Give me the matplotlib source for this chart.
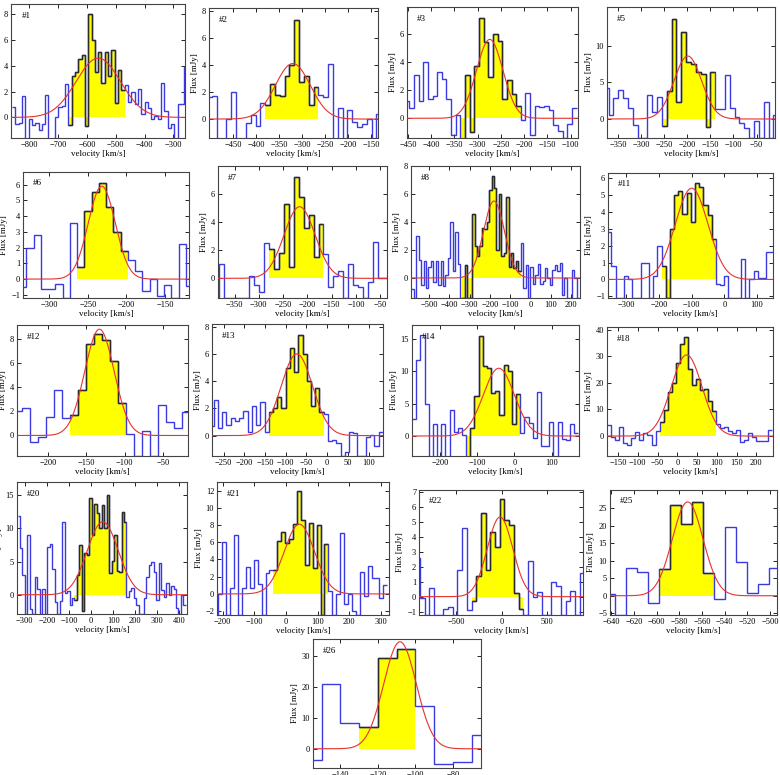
import numpy as np
import matplotlib
matplotlib.use("Agg")
import matplotlib.pyplot as plt

plt.rcParams['font.family'] = ['Liberation Serif', 'DejaVu Serif']
plt.rcParams['font.size'] = 6.5
plt.rcParams['axes.linewidth'] = 0.8

# ---------------- data (velocity channels in km/s, flux in mJy) ----------------
names = ['#1', '#2', '#3', '#5', '#6', '#7', '#8', '#11', '#12', '#13',
         '#14', '#18', '#20', '#21', '#22', '#25', '#26']

# first channel edge and channel width per source
v_start = [-860.5, -506, -457, -381, -339.2, -391.2, -588, -358.4, -245.5,
           -283.8, -275.6, -177.6, -332.6, -226, -957, -645.85, -160]
v_width = [11.5, 10.5, 10, 10.5, 9.4, 10.2, 12, 12.8, 10.5,
           10.2, 11.2, 10.2, 11.2, 12.4, 52, 9.65, 10]

# line window: (first channel, number of channels)
line_win = [(17, 17), (12, 11), (12, 13), (12, 11), (8, 7), (11, 11), (21, 24),
            (13, 13), (7, 7), (14, 13), (13, 13), (13, 14), (23, 21), (15, 14),
            (12, 11), (5, 5), (3, 3)]

# gaussian fits: amplitude, centre, sigma
fit_amp = [4.6, 4.1, 5.6, 8.6, 5.9, 5.1, 5.5, 5.4, 8.8, 6.0, 10.5, 30.5, 11.0, 8.1, 5.3, 26.8, 34.5]
fit_mu = [-561, -320, -274, -199, -232, -216, -180, -100, -133, -73, -42, 23.5, 53, 42, -18, -572.6, -108.2]
fit_sig = [77, 38, 28.5, 30, 17.4, 32, 52, 50, 19.2, 38, 42, 39, 70, 48, 141, 13.5, 8.7]

flux_1 = [0.8, -0.5, -0.4, 1.65, -1.8, -0.1, -0.6, -0.4, -1.0, -0.5, 1.7, -1.8, -1.8, 0.0, 0.8, 0.9, 2.6,
          -0.6, 3.2, 3.5, 4.5, 4.85, -0.7, 8.0, 6.0, 3.5, 5.1, 2.7, 5.1, 3.2, 5.25, 1.1, 3.7, 2.1,
          2.5, 1.2, 2.0, 1.0, 2.2, 0.3, 1.2, 0.7, -0.1, 0.1, -0.1, 2.7, 0.5, -0.8, -0.5, -1.8, 1.0, 1.0, 3.9]
flux_2 = [1.6, 1.7, -1.6, -1.6, 0.0, 2.0, -1.6, -1.6, -0.3, 0.3, -0.5, 1.2,
          1.0, 2.6, 1.8, 1.7, 3.2, 4.0, 7.3, 2.7, 3.2, 1.0, 2.4,
          1.8, 1.6, 4.1, -1.6, 0.8, -1.6, 0.7, -0.2, -0.6, -0.4, 0.0, -1.6, 0.4]
flux_3 = [1.2, 0.7, 3.1, 1.2, 4.0, 1.4, 1.6, 3.3, 2.8, 1.4, -1.2, 0.2,
          -1.5, 3.1, -1.0, 3.7, 7.1, 5.4, 2.9, 6.0, 5.5, 1.4, 2.7, 1.7, 0.9,
          -0.1, 1.8, -1.2, 0.9, 0.8, 0.85, 0.6, -0.5, -0.9, -1.4, -0.4, 0.7]
flux_5 = [4.2, 0.5, 2.8, 4.0, 2.8, 1.5, -0.8, -2.6, -2.6, 3.3, 0.9, 3.0,
          -0.9, 3.8, 13.7, 2.3, 11.9, 7.8, 7.5, 6.4, 6.2, -1.1, 6.4,
          1.3, 1.3, 6.0, 1.5, 0.3, -0.5, -1.3, -2.6, -0.3, -2.6, 2.3, -2.6, 0.5]
flux_6 = [-0.5, 2.0, 2.8, -0.65, -0.65, -0.3, -1.2, 3.55,
          0.8, 4.35, 5.55, 6.1, 4.6, 3.0, 1.8,
          1.2, 0.5, -0.75, 0.0, -1.05, -0.4, -1.2, 2.2, -0.45]
flux_7 = [-1.4, 1.0, -1.4, -1.4, -1.4, -1.4, -1.4, 0.2, -0.5, -1.0, 2.5,
          2.1, 0.7, 1.8, 5.3, 0.8, 7.2, 5.8, 3.6, 4.5, 1.5, 3.9,
          1.7, -0.6, 0.2, 0.55, -1.4, 1.0, -0.5, -0.6, -1.4, -0.25, 2.6, 0.0, 0.0, 0.95]
flux_8 = [-0.8, -1.4, 3.0, 1.3, -0.5, 1.2, -0.7, 0.8, 1.2, -0.3, 1.2, -0.5, 1.2, -0.6, 0.2, 1.4, 4.0, 0.5, 3.3, 1.0, -1.4,
          -1.4, 0.9, -1.4, -1.4, 4.6, 2.3, 1.6, 2.3, 3.6, 3.5, 4.0, 6.3, 7.3, 6.4, 2.0, 6.0, 1.6, 1.8, 5.8, 0.8, 1.8, 0.7, 1.2, 0.5,
          2.5, -0.7, 0.9, -1.4, 0.8, -0.4, 0.2, 1.0, -0.4, -0.2, 0.7, 0.0, -0.5, 0.6, 0.9, 0.5, 1.1, -1.2, 0.0, -1.4, -1.4, 0.6, 0.0, -1.4]
flux_11 = [2.8, 0.8, -1.1, -1.1, 0.2, 0.0, -1.1, -1.1, 1.0, 0.95, -1.1, 0.2, 1.95,
           0.8, -1.1, 3.0, 5.0, 5.25, 3.9, 5.1, 3.4, 5.7, 5.5, 4.4, 3.8, 2.4,
           -0.3, -0.35, 0.2, -1.1, -1.1, -1.1, 1.2, -1.1, 0.0, 0.5, 0.1, 0.1, 1.6, 1.6]
flux_12 = [2.0, 2.3, -0.5, -0.1, 1.55, 3.8, 1.45,
           1.7, 3.8, 7.6, 8.4, 7.9, 6.2, 2.7,
           0.1, -1.7, 0.4, -1.7, 2.5, 1.1, 0.65, 1.95]
flux_13 = [0.7, 2.6, 0.55, 1.7, 0.75, 1.3, 1.1, 1.3, 1.8, 0.3, 2.2, 0.8, 2.45, 0.3,
           1.7, 2.0, 2.8, 2.0, 5.0, 6.4, 4.7, 7.4, 6.0, 4.0, 2.2, 3.5, 1.7,
           1.6, -0.4, -0.3, -0.55, -1.5, -1.2, 0.3, 0.2, -1.5, -1.5, -0.1, 0.05, -0.8, 0.3]
flux_14 = [2.6, 11.8, 15.7, 4.9, -3.2, 1.9, -3.2, 1.9, -3.2, 4.1, 0.6, 1.2, 0.1,
           -3.2, 1.3, 6.2, 15.5, 10.9, 10.6, 6.7, 7.0, 3.2, 11.0, 10.0, 1.8, 6.5,
           0.5, 2.9, 2.0, -0.3, 6.8, -1.5, -1.5, 2.1, -3.2, 2.1, -0.5, -0.6, 1.8, 0.4]
flux_18 = [4.2, -0.5, -1.5, 3.3, -2.5, -3.3, -0.8, 1.5, -1.4, 1.3, 0.5, -3.3, 2.0,
           5.3, 9.8, 16.5, 20.0, 27.3, 34.7, 37.2, 25.3, 19.3, 21.5, 17.3, 17.8, 13.0, 9.5,
           4.5, 2.9, 3.3, 2.0, 1.2, 2.2, -2.3, -1.5, 1.2, -0.2, -1.8, -2.0, -1.8, 2.3]
flux_20 = [11.8, 7.0, 3.0, -2.9, 9.0, -2.2, -2.9, 2.7, 0.8, -2.9, 0.8, -2.9, 7.2, 7.6, 3.9, -1.1, -2.9, -1.0, 11.0, 0.3, 0.6, -1.5, -0.5,
           -0.8, 3.0, 7.5, -2.5, 6.3, 6.0, 14.6, 9.0, 13.7, 12.3, 10.1, 13.5, 10.0, 15.1, 3.3, 5.1, 9.0, 3.6, 3.5, 12.5, 11.0,
           -0.3, 0.5, 1.0, -0.5, -1.5, -2.9, -2.9, -0.5, 2.7, 4.5, 4.9, 3.5, -0.8, 4.8, 0.7, -0.3, 1.7, 0.0, 1.3, 0.8, -2.0, -2.9, 0.0, -1.5]
flux_21 = [-2.45, 0.0, 6.0, -2.45, 0.7, 6.9, -2.45, 0.7, 3.1, 0.7, 3.9, 1.2, -2.45, 2.4, 2.8,
           2.8, 6.1, 7.2, 5.9, 6.4, 8.1, 11.9, 8.6, 3.4, 8.2, 3.0, 8.0, -2.45, 5.8,
           0.3, -2.45, 0.0, 7.1, -1.2, 0.0, -2.0, -2.45, 2.6, -0.2, 3.2, 1.9, 1.8, -0.5, 1.0]
flux_22 = [2.6, -0.1, -1.2, 0.55, -1.2, -1.2, -0.8, -0.7, -1.2, 1.8, 4.6, -0.9,
           -0.3, 1.4, 5.6, 1.8, 4.3, 3.3, 6.5, 5.1, 4.8, 0.25, -0.8,
           -1.2, 2.35, -0.05, 0.3, -1.2, -1.2, 1.0, 0.7, -1.2, -0.3, 0.4, -1.2, 1.55]
flux_25 = [0.6, -5.5, 7.8, 6.7, -2.2,
           7.7, 26.0, 20.5, 26.8, 6.6,
           -0.8, 19.7, 9.5, 0.8, 3.3, 8.0]
flux_26 = [-3.5, 20.9, 8.3,
           6.9, 29.2, 32.3,
           13.8, -4.8, -4.3, 4.6]

fluxes = [flux_1, flux_2, flux_3, flux_5, flux_6, flux_7, flux_8, flux_11, flux_12,
          flux_13, flux_14, flux_18, flux_20, flux_21, flux_22, flux_25, flux_26]

# ---------------- layout (pixels: left, top, right, bottom) ----------------
W, H = 780, 775
boxes = [(11, 4, 185, 138), (209, 8, 378, 138), (407, 7, 578, 138), (607, 7, 775, 138),
         (23, 172, 189, 298), (218, 166, 387, 298), (411, 166, 580, 298), (608, 173, 773, 298),
         (17, 325, 188, 456), (212, 324, 383, 456), (412, 325, 579, 456), (607, 327, 773, 456),
         (17, 482, 187, 614), (217, 482, 389, 615), (419, 490, 583, 615), (610, 490, 777, 615),
         (313, 639, 481, 768)]
xlims = [(-864, -260), (-502, -135), (-452, -84), (-374, -10), (-334, -119), (-384, -36),
         (-590, 245), (-356, 149), (-241, -17), (-278, 135), (-276, 174), (-178, 242),
         (-335, 434), (-218, 325), (-915, 900), (-641, -494), (-154.6, -65)]
ylims = [(-1.6, 8.8), (-1.4, 8.2), (-1.4, 7.9), (-2.6, 15.3), (-1.2, 6.8), (-1.4, 8.0),
         (-1.43, 8.0), (-1.1, 6.3), (-1.7, 9.15), (-1.5, 8.2), (-3.1, 17.2), (-7.5, 41),
         (-2.9, 17), (-2.45, 13.0), (-1.22, 7.1), (-5.5, 30.2), (-6.2, 35.4)]
xticks = [np.arange(-800, -299, 100), np.arange(-450, -149, 50), np.arange(-450, -99, 50),
          np.arange(-350, -49, 50), np.arange(-300, -149, 50), np.arange(-350, -49, 50),
          np.arange(-500, 201, 100), np.arange(-300, 101, 100), np.arange(-200, -49, 50),
          np.arange(-250, 101, 50), np.arange(-200, 101, 100), np.arange(-150, 201, 50),
          np.arange(-300, 401, 100), np.arange(-200, 301, 100), np.arange(-500, 501, 500),
          np.arange(-640, -499, 20), np.arange(-140, -79, 20)]
yticks = [np.arange(0, 9, 2), np.arange(0, 9, 2), np.arange(0, 7, 2), np.arange(0, 11, 5),
          np.arange(-1, 7, 1), np.arange(0, 7, 2), np.arange(0, 9, 2), np.arange(-1, 7, 1),
          np.arange(0, 9, 2), np.arange(0, 9, 2), np.arange(0, 16, 5), np.arange(0, 41, 10),
          np.arange(0, 16, 5), np.arange(-2, 13, 2), np.arange(-1, 8, 1), np.arange(-5, 26, 5),
          np.arange(0, 31, 10)]

fig = plt.figure(figsize=(W / 100, H / 100), dpi=100)

for k in range(len(names)):
    l, t, r, b = boxes[k]
    ax = fig.add_axes([l / W, 1 - b / H, (r - l) / W, (b - t) / H])
    f = np.array(fluxes[k], dtype=float)
    edges = v_start[k] + v_width[k] * np.arange(len(f) + 1)
    i0, n = line_win[k]
    # yellow line window
    ax.stairs(f[i0:i0 + n], edges[i0:i0 + n + 1], baseline=0, fill=True,
              color='#ffff00', zorder=1)
    # full spectrum
    ax.stairs(f, edges, baseline=None, color='#3a3ae0', lw=1.0, zorder=2)
    # line window outline
    ax.stairs(f[i0:i0 + n], edges[i0:i0 + n + 1], baseline=None,
              color='#2a2a2a', lw=1.0, zorder=3)
    # gaussian fit
    xx = np.linspace(xlims[k][0], xlims[k][1], 600)
    yy = fit_amp[k] * np.exp(-0.5 * ((xx - fit_mu[k]) / fit_sig[k]) ** 2)
    ax.plot(xx, yy, color='#e8322c', lw=0.8, zorder=4)

    ax.set_xlim(*xlims[k])
    ax.set_ylim(*ylims[k])
    ax.set_xticks(xticks[k])
    ax.set_yticks(yticks[k])
    ax.tick_params(direction='in', top=True, right=True, length=3, width=0.6,
                   labelsize=6, pad=2)
    ax.set_xlabel('velocity [km/s]', fontsize=6.5, labelpad=1)
    ax.set_ylabel('Flux [mJy]', fontsize=6.5, labelpad=2)
    ax.text(0.06, 0.91, names[k], transform=ax.transAxes, fontsize=6.5,
            ha='left', va='center', zorder=5)
    for s in ax.spines.values():
        s.set_color('#444444')

fig.savefig('out.png', dpi=100)
